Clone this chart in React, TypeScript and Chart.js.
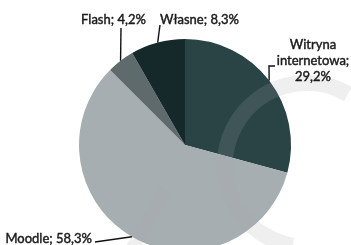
import React, { useEffect, useRef } from "react";
import { Chart, registerables } from "chart.js";

Chart.register(...registerables);

const categories = ["Witryna internetowa", "Moodle", "Flash", "Własne"];
const shares = [29.2, 58.3, 4.2, 8.3];
const sliceColors = ["#2a4446", "#a6aeb1", "#5e6a6b", "#15282a"];

// label layout (not data): text anchor, alignment, line breaks, leader path
const labelLayout = [
  { lines: (l: string, v: string) => ["Witryna", "internetowa;", v], x: 313, y: 45, align: "center", leader: [[269, 66], [275, 66]] },
  { lines: (l: string, v: string) => [`${l}; ${v}`], x: 92, y: 239, align: "right", leader: [[95, 242]] },
  { lines: (l: string, v: string) => [`${l}; ${v}`], x: 113.5, y: 20, align: "center", leader: [[121, 28]] },
  { lines: (l: string, v: string) => [`${l}; ${v}`], x: 199.5, y: 20, align: "center", leader: [[160, 25]] },
];

const fmt = (v: number) => v.toFixed(1).replace(".", ",") + "%";

const watermarkPlugin = {
  id: "watermark",
  afterDatasetsDraw(chart: any) {
    const ctx = chart.ctx;
    ctx.save();
    ctx.strokeStyle = "rgba(165,165,165,0.18)";
    ctx.lineWidth = 16;
    ctx.beginPath();
    ctx.arc(307, 165, 82, (-60 * Math.PI) / 180, (100 * Math.PI) / 180, true);
    ctx.stroke();
    ctx.lineWidth = 13;
    ctx.beginPath();
    ctx.moveTo(166, 190);
    ctx.lineTo(130, 252);
    ctx.stroke();
    ctx.restore();
  },
};

const labelPlugin = {
  id: "pieLabels",
  afterDraw(chart: any) {
    const ctx = chart.ctx;
    const meta = chart.getDatasetMeta(0);
    ctx.save();
    ctx.fillStyle = "#1c1c1c";
    ctx.strokeStyle = "#111";
    ctx.lineWidth = 1.4;
    ctx.font = "13px Lato";
    ctx.textBaseline = "middle";
    meta.data.forEach((arc: any, i: number) => {
      const lay = labelLayout[i];
      const mid = (arc.startAngle + arc.endAngle) / 2;
      const ex = arc.x + Math.cos(mid) * arc.outerRadius;
      const ey = arc.y + Math.sin(mid) * arc.outerRadius;
      ctx.lineWidth = 1.4;
      ctx.strokeStyle = "#111";
      ctx.beginPath();
      ctx.moveTo(ex, ey);
      lay.leader.forEach((p: number[]) => ctx.lineTo(p[0], p[1]));
      ctx.stroke();
      const lines = lay.lines(categories[i], fmt(shares[i]));
      ctx.textAlign = lay.align;
      ctx.lineWidth = 0.45;
      ctx.strokeStyle = "#1c1c1c";
      lines.forEach((t: string, k: number) => {
        ctx.fillText(t, lay.x, lay.y + k * 16);
        ctx.strokeText(t, lay.x, lay.y + k * 16);
      });
    });
    ctx.restore();
  },
};

export default function App() {
  const ref = useRef<HTMLCanvasElement>(null);
  useEffect(() => {
    const chart = new Chart(ref.current!, {
      type: "pie",
      data: {
        labels: categories,
        datasets: [{ data: shares, backgroundColor: sliceColors, borderWidth: 0 }],
      },
      options: {
        responsive: false,
        animation: false,
        layout: { padding: { left: 79, right: 60, top: 39, bottom: 9 } },
        plugins: { legend: { display: false }, tooltip: { enabled: false } },
      },
      plugins: [watermarkPlugin, labelPlugin],
    });
    return () => chart.destroy();
  }, []);
  return (
    <div style={{ position: "fixed", left: 0, top: 0, width: 351, height: 260, background: "#fff" }}>
      <canvas ref={ref} width={351} height={260} style={{ width: 351, height: 260, display: "block" }} />
    </div>
  );
}
